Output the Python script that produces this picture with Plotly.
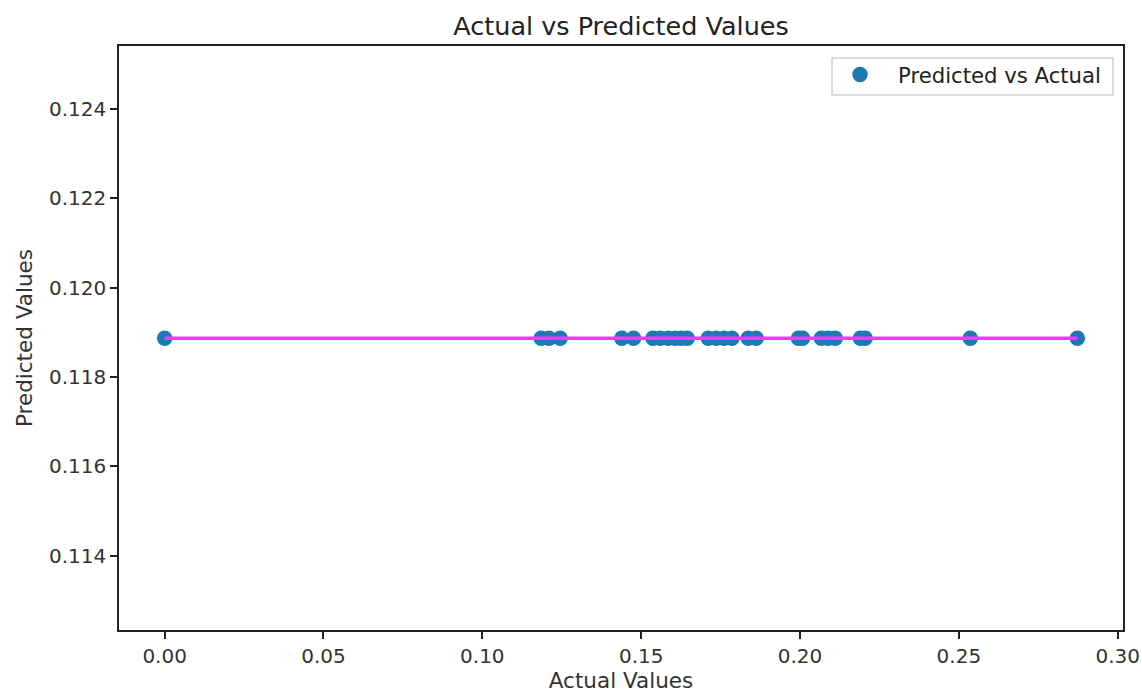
import plotly.graph_objects as go

actual = [0.0, 0.1185, 0.121, 0.1245, 0.1439, 0.1476, 0.1537, 0.1560, 0.1585,
          0.1607, 0.1626, 0.1645, 0.1711, 0.1736, 0.1761, 0.1786, 0.1837,
          0.1862, 0.1995, 0.2008, 0.2067, 0.2089, 0.2111, 0.2190, 0.2205,
          0.2536, 0.2873]
predicted = [0.11887] * len(actual)

line_x = [min(actual), max(actual)]
line_y = [predicted[0], predicted[0]]

fig = go.Figure()
fig.add_trace(go.Scatter(
    x=actual, y=predicted, mode="markers", name="Predicted vs Actual",
    marker=dict(color="#1f77b4", size=15.5, line=dict(width=0)),
))
fig.add_trace(go.Scatter(
    x=line_x, y=line_y, mode="lines", showlegend=False,
    line=dict(color="#ff33ff", width=3.5),
))

axis_common = dict(
    showline=True, mirror=True, linecolor="#222", linewidth=1.6,
    ticks="outside", ticklen=7, tickwidth=1.5, tickcolor="#222",
    showgrid=False, zeroline=False,
    tickfont=dict(size=20, color="#333"),
)

# legend frame (drawn as a shape so its width matches the reference)
fig.add_shape(type="rect", xref="paper", yref="paper",
              x0=0.7102, x1=0.9900, y0=0.9161, y1=0.9795,
              line=dict(color="#d0d0d0", width=1.5), fillcolor="white",
              layer="above")

fig.update_layout(
    width=1142, height=693,
    margin=dict(l=119, r=19, t=46, b=63, autoexpand=False),
    paper_bgcolor="white", plot_bgcolor="white",
    font=dict(family="DejaVu Sans", color="#333", size=20),
    title=dict(text="Actual vs Predicted Values", x=0.5438, xanchor="center",
               y=0.963, yanchor="middle", font=dict(size=25.5, color="#222")),
    xaxis=dict(range=[-0.01437, 0.30167], dtick=0.05, tick0=0, tickformat=".2f",
               title=dict(text="Actual Values", standoff=6, font=dict(size=21.5)),
               **axis_common),
    yaxis=dict(range=[0.11234, 0.12541], dtick=0.002, tick0=0.114, tickformat=".3f",
               title=dict(text="Predicted Values", standoff=10, font=dict(size=21.5)),
               **axis_common),
    legend=dict(x=0.7002, y=0.986, xanchor="left", yanchor="top",
                borderwidth=0, bgcolor="rgba(0,0,0,0)",
                itemwidth=66,
                font=dict(size=21.2, color="#222")),
)

fig.write_html("out.html")
